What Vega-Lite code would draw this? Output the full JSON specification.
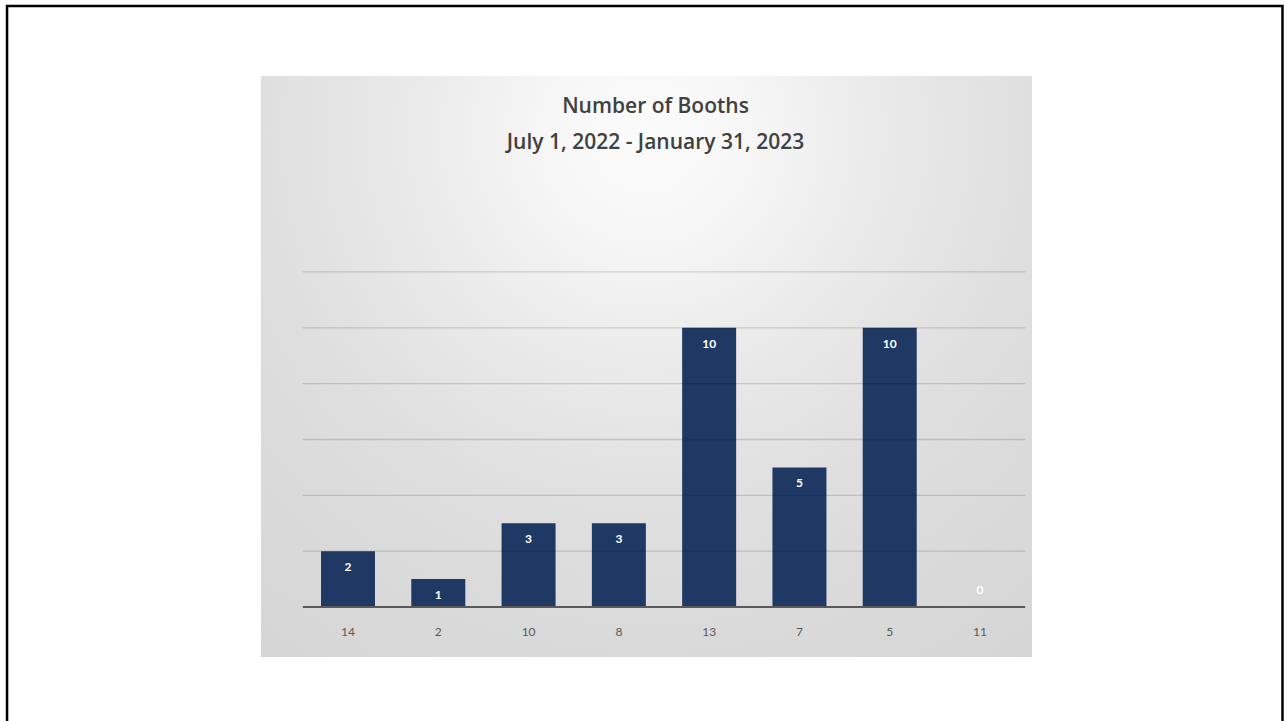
{
  "$schema": "https://vega.github.io/schema/vega-lite/v6.json",
  "width": 771,
  "height": 581,
  "autosize": {"type": "none"},
  "padding": {"left": 261, "top": 76, "right": 252, "bottom": 64},
  "background": "white",
  "config": {
    "view": {"stroke": null},
    "font": "Lato"
  },
  "title": {
    "text": ["Number of Booths", "July 1, 2022 - January 31, 2023"],
    "anchor": "middle",
    "frame": "group",
    "baseline": "top",
    "offset": -148,
    "dx": 9,
    "font": "Open Sans",
    "fontSize": 21,
    "fontWeight": 600,
    "color": "#404040",
    "lineHeight": 36
  },
  "datasets": {
    "booths": [
      {"district": "14", "booths": 2},
      {"district": "2", "booths": 1},
      {"district": "10", "booths": 3},
      {"district": "8", "booths": 3},
      {"district": "13", "booths": 10},
      {"district": "7", "booths": 5},
      {"district": "5", "booths": 10},
      {"district": "11", "booths": 0}
    ],
    "gridLevels": [
      {"level": 2}, {"level": 4}, {"level": 6}, {"level": 8}, {"level": 10}, {"level": 12}
    ]
  },
  "layer": [
    {
      "data": {"values": [{}]},
      "mark": {
        "type": "rect",
        "fill": {
          "gradient": "radial",
          "x1": 0.5, "y1": 0.2, "r1": 0,
          "x2": 0.5, "y2": 0.2, "r2": 1,
          "stops": [
            {"offset": 0, "color": "#fbfbfb"},
            {"offset": 0.12, "color": "#f7f7f7"},
            {"offset": 0.3, "color": "#eaeaea"},
            {"offset": 0.5, "color": "#dfdfdf"},
            {"offset": 0.65, "color": "#dadada"},
            {"offset": 1, "color": "#d2d2d2"}
          ]
        }
      },
      "encoding": {}
    },
    {
      "data": {"name": "booths"},
      "mark": {"type": "bar", "color": "#1f3864"},
      "encoding": {
        "x": {
          "field": "district",
          "type": "nominal",
          "sort": null,
          "axis": null,
          "scale": {
            "domain": ["14", "2", "10", "8", "13", "7", "5", "11"],
            "paddingInner": 0.402,
            "paddingOuter": 0.4707,
            "align": 0.706
          }
        },
        "y": {
          "field": "booths",
          "type": "quantitative",
          "axis": null,
          "scale": {"domain": [-1.791, 19.019], "nice": false, "zero": false}
        },
        "y2": {"datum": 0}
      }
    },
    {
      "data": {"name": "gridLevels"},
      "mark": {"type": "rule", "color": "#000000", "opacity": 0.14, "strokeWidth": 1.3},
      "encoding": {
        "y": {"field": "level", "type": "quantitative"},
        "x": {"datum": "14", "type": "nominal", "bandPosition": -0.336},
        "x2": {"datum": "11", "bandPosition": 1.336}
      }
    },
    {
      "data": {"values": [{}]},
      "mark": {"type": "rule", "color": "#595959", "strokeWidth": 1.8},
      "encoding": {
        "y": {"datum": 0, "type": "quantitative"},
        "x": {"datum": "14", "type": "nominal", "bandPosition": -0.336},
        "x2": {"datum": "11", "bandPosition": 1.336}
      }
    },
    {
      "data": {"name": "booths"},
      "transform": [{"filter": "datum.booths > 0"}],
      "mark": {"type": "text", "color": "white", "fontWeight": "bold", "fontSize": 12, "baseline": "middle", "dy": 16},
      "encoding": {
        "x": {"field": "district", "type": "nominal"},
        "y": {"field": "booths", "type": "quantitative"},
        "text": {"field": "booths", "type": "quantitative"}
      }
    },
    {
      "data": {"name": "booths"},
      "transform": [{"filter": "datum.booths == 0"}],
      "mark": {"type": "text", "color": "white", "fontWeight": "bold", "fontSize": 12, "baseline": "middle", "dy": -17},
      "encoding": {
        "x": {"field": "district", "type": "nominal"},
        "y": {"field": "booths", "type": "quantitative"},
        "text": {"field": "booths", "type": "quantitative"}
      }
    },
    {
      "data": {"name": "booths"},
      "mark": {"type": "text", "color": "#595959", "fontSize": 12, "baseline": "middle"},
      "encoding": {
        "x": {"field": "district", "type": "nominal"},
        "y": {"datum": -0.9, "type": "quantitative"},
        "text": {"field": "district", "type": "nominal"}
      }
    },
    {
      "data": {"values": [{}]},
      "mark": {"type": "rect", "fill": null, "stroke": "black", "strokeWidth": 2.5, "clip": false},
      "encoding": {
        "x": {"datum": "14", "type": "nominal", "bandPosition": -5.815},
        "x2": {"datum": "11", "bandPosition": 6.102},
        "y": {"datum": 21.526, "type": "quantitative"},
        "y2": {"datum": -5}
      }
    }
  ]
}
